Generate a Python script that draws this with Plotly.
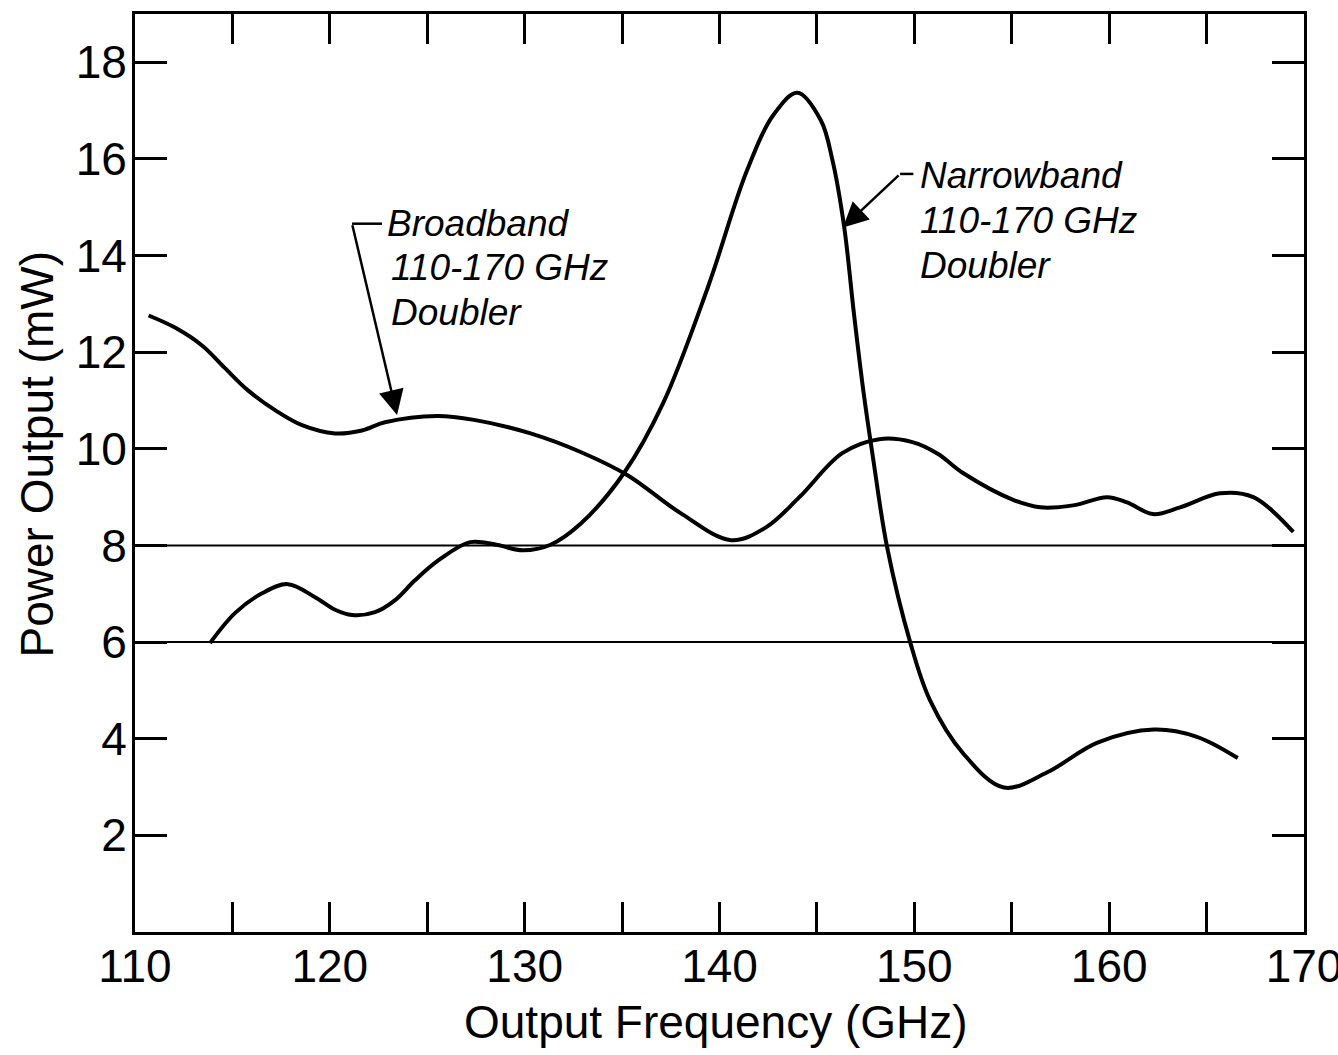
import plotly.graph_objects as go

# Broadband 110-170 GHz doubler (GHz, mW)
bb_freq = [110.7, 112.05, 113.44, 114.62, 115.8, 117.19, 118.57, 120.27, 121.65, 122.83,
           125.5, 127.4, 130.3, 132.9, 135.3, 138.0, 140.6, 142.4, 144.1, 146.3, 148.2,
           149.9, 151.2, 152.5, 155.1, 156.46, 158.15, 159.9, 160.92, 162.26, 163.64,
           165.7, 167.4, 169.45]
bb_power = [12.76, 12.51, 12.14, 11.67, 11.21, 10.80, 10.49, 10.32, 10.38, 10.55,
            10.68, 10.60, 10.32, 9.93, 9.45, 8.67, 8.11, 8.38, 9.00, 9.91, 10.20,
            10.14, 9.90, 9.50, 8.94, 8.79, 8.83, 9.00, 8.89, 8.65, 8.79,
            9.08, 9.00, 8.28]

# Narrowband 110-170 GHz doubler (GHz, mW)
nb_freq = [113.85, 115.13, 116.52, 117.85, 119.24, 120.27, 121.14, 122.32, 123.35, 124.37,
           125.6, 127.2, 128.6, 129.9, 131.3, 132.9, 135.1, 137.1, 139.4, 141.4, 142.8,
           144.0, 145.2, 145.8, 146.4, 146.9, 147.4, 147.9, 148.6, 149.8, 150.8, 152.5,
           154.6, 156.8, 159.4, 162.3, 164.5, 166.6]
nb_power = [5.98, 6.60, 7.01, 7.20, 6.93, 6.67, 6.56, 6.62, 6.87, 7.28,
            7.70, 8.07, 8.01, 7.90, 8.01, 8.46, 9.50, 10.94, 13.34, 15.75, 16.93,
            17.37, 16.80, 15.97, 14.59, 12.80, 11.15, 9.76, 7.97, 5.98, 4.80, 3.70,
            2.99, 3.30, 3.92, 4.19, 4.04, 3.60]

ref_levels = [8, 6]

x_tickvals = [110, 115, 120, 125, 130, 135, 140, 145, 150, 155, 160, 165, 170]
x_ticktext = ["110", "", "120", "", "130", "", "140", "", "150", "", "160", "", "170"]
y_tickvals = [2, 4, 6, 8, 10, 12, 14, 16, 18]
y_ticktext = ["2", "4", "6", "8", "10", "12", "14", "16", "18"]

bb_label = ["Broadband", "110-170 GHz", "Doubler"]
nb_label = ["Narrowband", "110-170 GHz", "Doubler"]

FONT = "Liberation Sans, Arial, sans-serif"

fig = go.Figure()
fig.add_trace(go.Scatter(x=bb_freq, y=bb_power, mode="lines",
                         line=dict(color="black", width=4, shape="spline", smoothing=1.0),
                         name="Broadband", showlegend=False))
fig.add_trace(go.Scatter(x=nb_freq, y=nb_power, mode="lines",
                         line=dict(color="black", width=4, shape="spline", smoothing=1.0),
                         name="Narrowband", showlegend=False))

for lv in ref_levels:
    fig.add_shape(type="line", xref="paper", x0=0, x1=1, yref="y", y0=lv, y1=lv,
                  line=dict(color="black", width=2), layer="below")

# leader segments
fig.add_shape(type="line", xref="x", yref="y", x0=121.14, x1=122.68, y0=14.66, y1=14.66,
              line=dict(color="black", width=2.5))
fig.add_shape(type="line", xref="x", yref="y", x0=149.27, x1=149.95, y0=15.69, y1=15.69,
              line=dict(color="black", width=2.5))

# arrows
fig.add_annotation(x=123.45, y=10.7, ax=121.14, ay=14.66, xref="x", yref="y",
                   axref="x", ayref="y", text="", showarrow=True,
                   arrowhead=2, arrowsize=2, arrowwidth=2.5, arrowcolor="black")
fig.add_annotation(x=146.34, y=14.58, ax=149.27, ay=15.69, xref="x", yref="y",
                   axref="x", ayref="y", text="", showarrow=True,
                   arrowhead=2, arrowsize=2, arrowwidth=2.5, arrowcolor="black")

bb_tops = [15.14, 14.21, 13.28]
bb_lefts = [122.85, 123.05, 123.05]
for txt, yy, xx in zip(bb_label, bb_tops, bb_lefts):
    fig.add_annotation(x=xx, y=yy, xref="x", yref="y", xanchor="left", yanchor="top",
                       text="<i>" + txt + "</i>", showarrow=False,
                       font=dict(family=FONT, size=37, color="black"))
nb_tops = [16.12, 15.2, 14.27]
nb_lefts = [150.2, 150.2, 150.2]
for txt, yy, xx in zip(nb_label, nb_tops, nb_lefts):
    fig.add_annotation(x=xx, y=yy, xref="x", yref="y", xanchor="left", yanchor="top",
                       text="<i>" + txt + "</i>", showarrow=False,
                       font=dict(family=FONT, size=37, color="black"))

# axis titles
fig.add_annotation(x=0.497, y=-0.098, xref="paper", yref="paper", xanchor="center",
                   yanchor="middle", text="Output Frequency (GHz)", showarrow=False,
                   font=dict(family=FONT, size=46, color="black"))
fig.add_annotation(x=-0.084, y=0.52, xref="paper", yref="paper", xanchor="center",
                   yanchor="middle", text="Power Output (mW)", showarrow=False, textangle=-90,
                   font=dict(family=FONT, size=46, color="black"))

fig.update_layout(
    width=1338, height=1055,
    margin=dict(l=135, r=34, t=14, b=123, autoexpand=False),
    paper_bgcolor="white", plot_bgcolor="white",
    font=dict(family=FONT, color="black"),
)
fig.update_xaxes(range=[110, 170], tickvals=x_tickvals, ticktext=x_ticktext,
                 ticks="inside", ticklen=30, tickwidth=3, tickcolor="black",
                 showline=True, linewidth=3, linecolor="black", mirror="ticks",
                 showgrid=False, zeroline=False, automargin=False,
                 ticklabeloverflow="allow", ticklabelstandoff=-8,
                 tickfont=dict(family=FONT, size=46))
fig.update_yaxes(range=[0, 19], tickvals=y_tickvals, ticktext=y_ticktext,
                 ticks="inside", ticklen=32, tickwidth=3, tickcolor="black",
                 showline=True, linewidth=3, linecolor="black", mirror="ticks",
                 showgrid=False, zeroline=False, automargin=False,
                 ticklabelstandoff=-4,
                 tickfont=dict(family=FONT, size=46))

fig.write_html("out.html", config={"displayModeBar": False},
               post_script="document.body.style.margin='0px'; document.body.style.overflow='hidden';")
